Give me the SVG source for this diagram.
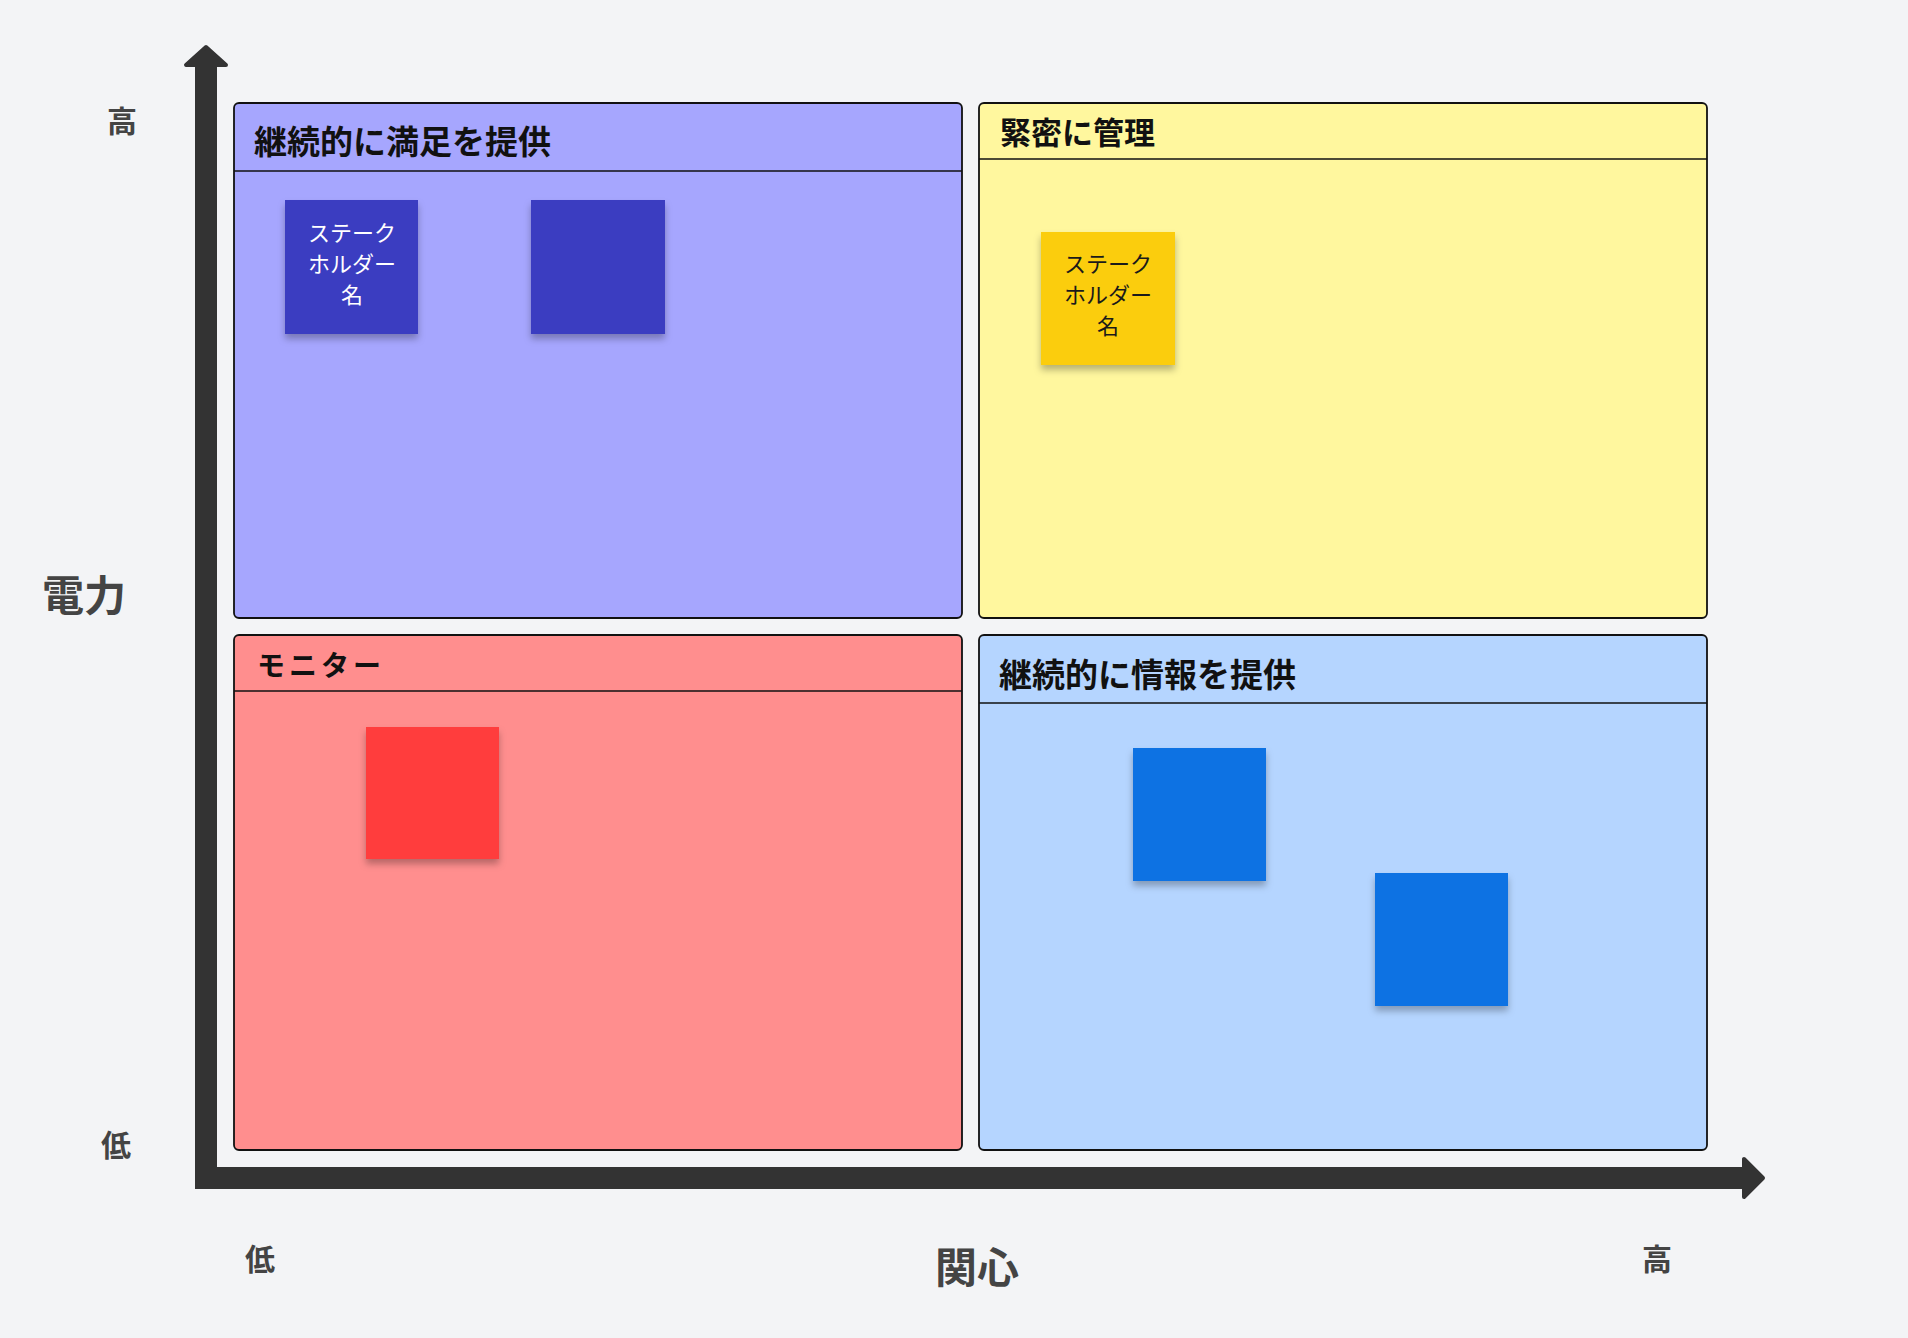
<svg xmlns="http://www.w3.org/2000/svg" width="1908" height="1338" viewBox="0 0 1908 1338">
  <defs>
    <filter id="shadow" x="-20%" y="-20%" width="140%" height="150%">
      <feDropShadow dx="0" dy="5" stdDeviation="3.5" flood-color="#000" flood-opacity="0.28"/>
    </filter>
  </defs>
  <style>
    .quad { stroke: #111; stroke-width: 1.8; }
    .sep { stroke: #111; stroke-width: 1.6; }
    .title { font-family: "Noto Sans CJK JP", "Noto Sans", sans-serif; font-weight: 700; fill: #111; dominant-baseline: central; }
    .axislabel { font-family: "Noto Sans CJK JP", "Noto Sans", sans-serif; font-weight: 700; fill: #444; text-anchor: middle; dominant-baseline: central; }
    .sticky { filter: url(#shadow); }
    .stext { font-family: "Noto Sans CJK JP", "Noto Sans", sans-serif; font-size: 22px; text-anchor: middle; dominant-baseline: central; }
    .axis { fill: none; stroke: #333; stroke-width: 22; }
    .head { fill: #333; stroke: #333; stroke-width: 4; stroke-linejoin: round; }
  </style>
  <rect x="0" y="0" width="1908" height="1338" fill="#f3f4f6"/>

  <g id="connectors">
    <path class="axis" d="M206,62 L206,1178 L1746,1178"/>
    <polygon class="head" points="206,47 186,65 226,65"/>
    <polygon class="head" points="1763,1178 1744,1159 1744,1197"/>
  </g>

  <g id="quadrant-satisfy">
    <rect class="quad" x="234" y="103" width="728" height="515" rx="5" fill="#a6a6fe"/>
    <line class="sep" x1="234" y1="171" x2="962" y2="171"/>
    <text class="title" x="254" y="140" font-size="33">継続的に満足を提供</text>
  </g>
  <g id="quadrant-manage">
    <rect class="quad" x="979" y="103" width="728" height="515" rx="5" fill="#fff79e"/>
    <line class="sep" x1="979" y1="159" x2="1707" y2="159"/>
    <text class="title" x="1000" y="130" font-size="31">緊密に管理</text>
  </g>
  <g id="quadrant-monitor">
    <rect class="quad" x="234" y="635" width="728" height="515" rx="5" fill="#ff8e8e"/>
    <line class="sep" x1="234" y1="691" x2="962" y2="691"/>
    <text class="title" x="257" y="664" font-size="28" letter-spacing="4">モニター</text>
  </g>
  <g id="quadrant-inform">
    <rect class="quad" x="979" y="635" width="728" height="515" rx="5" fill="#b5d5ff"/>
    <line class="sep" x1="979" y1="703" x2="1707" y2="703"/>
    <text class="title" x="999" y="673" font-size="33">継続的に情報を提供</text>
  </g>

  <g id="sticky-purple-1">
    <rect class="sticky" x="285" y="200" width="133" height="134" fill="#3a3dc1"/>
    <text class="stext" fill="#ffffff" x="352" y="231">ステーク</text>
    <text class="stext" fill="#ffffff" x="352" y="262">ホルダー</text>
    <text class="stext" fill="#ffffff" x="352" y="293">名</text>
  </g>
  <g id="sticky-purple-2">
    <rect class="sticky" x="531" y="200" width="134" height="134" fill="#3a3dc1"/>
  </g>
  <g id="sticky-yellow-1">
    <rect class="sticky" x="1041" y="232" width="134" height="133" fill="#fbcd0b"/>
    <text class="stext" fill="#1a1a1a" x="1108" y="262">ステーク</text>
    <text class="stext" fill="#1a1a1a" x="1108" y="293">ホルダー</text>
    <text class="stext" fill="#1a1a1a" x="1108" y="324">名</text>
  </g>
  <g id="sticky-red-1">
    <rect class="sticky" x="366" y="727" width="133" height="132" fill="#ff3e3e"/>
  </g>
  <g id="sticky-blue-1">
    <rect class="sticky" x="1133" y="748" width="133" height="133" fill="#0d72e3"/>
  </g>
  <g id="sticky-blue-2">
    <rect class="sticky" x="1375" y="873" width="133" height="133" fill="#0d72e3"/>
  </g>

  <g id="label-power-high"><text class="axislabel" x="122" y="119" font-size="30">高</text></g>
  <g id="label-power"><text class="axislabel" x="84" y="592" font-size="42">電力</text></g>
  <g id="label-power-low"><text class="axislabel" x="116" y="1143" font-size="30">低</text></g>
  <g id="label-interest-low"><text class="axislabel" x="260" y="1257" font-size="30">低</text></g>
  <g id="label-interest"><text class="axislabel" x="977" y="1264" font-size="42">関心</text></g>
  <g id="label-interest-high"><text class="axislabel" x="1657" y="1257" font-size="30">高</text></g>
</svg>
